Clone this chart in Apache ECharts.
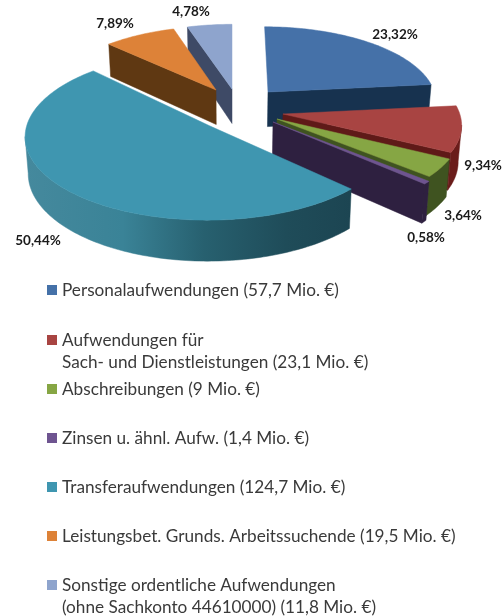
<!DOCTYPE html>
<html>
<head>
<meta charset="utf-8">
<style>html,body{margin:0;padding:0;background:#fff}#c{width:504px;height:616px}</style>
<script src="https://cdn.jsdelivr.net/npm/echarts@6/dist/echarts.min.js"></script>
</head>
<body>
<div id="c"></div>
<script>
// ---- data ----
const categories = [
  'Personalaufwendungen (57,7 Mio. €)',
  'Aufwendungen für\nSach- und Dienstleistungen (23,1 Mio. €)',
  'Abschreibungen (9 Mio. €)',
  'Zinsen u. ähnl. Aufw. (1,4 Mio. €)',
  'Transferaufwendungen (124,7 Mio. €)',
  'Leistungsbet. Grunds. Arbeitssuchende (19,5 Mio. €)',
  'Sonstige ordentliche Aufwendungen\n(ohne Sachkonto 44610000) (11,8 Mio. €)'
];
const amounts = [57.7, 23.1, 9, 1.4, 124.7, 19.5, 11.8];
const percents = [23.32, 9.34, 3.64, 0.58, 50.44, 7.89, 4.78];
const percentLabels = ['23,32%', '9,34%', '3,64%', '0,58%', '50,44%', '7,89%', '4,78%'];

// ---- style / layout ----
const topColors  = ['#4571a8', '#a84442', '#86a644', '#6e5490', '#3f96b0', '#dd8238', '#8ea4cd'];
const wallColors = ['#17324f', '#5f1a18', '#3f5320', '#2e2040', '#1d4753', '#5f3812', '#3e4a66'];
const rimColors  = ['#17324f', '#6a1c1a', '#3f5320', '#2e2040', null, '#6b4015', '#3e4a66'];
const apexX = [268, 283, 277, 273, 210, 216, 232];
const apexY = [92, 114, 119, 122, 126, 90, 89];
const radii = [0.97, 1, 1.02, 1.04, 1.02, 0.95, 0.97];
const angleShiftDeg = [0, 0, 0, 0, 1.3, 0, 0];
const labelX = [395, 483, 463, 426, 38, 115, 191];
const labelY = [35, 166, 216, 238, 241, 24, 12];
const legendCenterY = [290, 340, 389, 438, 487, 536, 585];
const secondLineY = { 1: 362, 6: 607 };
const drawOrder = [6, 5, 0, 1, 2, 3, 4];

// perspective ground-plane projection
const VX = 232, VY = -600, K = 0.2476, B = 0.00138, Q = 0.000155, H = 0.05, TILT = 0.015;
function depthOf(sy) { return (1 / (sy - VY) - B) / Q; }
function project(wx, w) {
  const d = 1 / (B + Q * w);
  return [VX + K * wx * d, VY + d];
}
function drop(p) {
  const h = H * (p[1] - VY);
  return [p[0] + (VX - p[0]) * TILT, p[1] + h];
}
const total = percents.reduce((a, b) => a + b, 0);
const starts = [];
percents.reduce((acc, v, i) => { starts[i] = acc; return acc + v; }, 0);

function renderSlice(i) {
  const shift = angleShiftDeg[i] * Math.PI / 180;
  const t0 = starts[i] / total * 2 * Math.PI + shift;
  const t1 = (starts[i] + percents[i]) / total * 2 * Math.PI + shift;
  const d0 = apexY[i] - VY;
  const ax = (apexX[i] - VX) / (K * d0), aw = depthOf(apexY[i]);
  const n = Math.max(4, Math.round((t1 - t0) * 50));
  const arc = [];
  for (let k = 0; k <= n; k++) {
    const t = t0 + (t1 - t0) * k / n;
    arc.push(project(ax + radii[i] * Math.sin(t), aw + radii[i] * Math.cos(t)));
  }
  const apex = [apexX[i], apexY[i]];
  const children = [];
  const poly = (pts, fill) => children.push({ type: 'polygon', shape: { points: pts }, style: { fill: fill, stroke: fill, lineWidth: 0.5 } });
  // radial walls that face the viewer
  if (Math.sin(t0) < -1e-6) poly([apex, arc[0], drop(arc[0]), drop(apex)], wallColors[i]);
  if (Math.sin(t1) > 1e-6) poly([apex, arc[n], drop(arc[n]), drop(apex)], wallColors[i]);
  // outer rim, near part only
  const rim = arc.filter((p, k) => (k < n && arc[k + 1][0] < p[0]) || (k > 0 && arc[k - 1][0] > p[0]));
  if (rim.length > 1) {
    const fill = rimColors[i] || new echarts.graphic.LinearGradient(0, 0, 1, 0, [
      { offset: 0, color: '#45899d' }, { offset: 0.3, color: '#3a8397' },
      { offset: 0.55, color: '#27606f' }, { offset: 0.8, color: '#1f4c59' }, { offset: 1, color: '#1c4552' }
    ]);
    poly(rim.concat(rim.map(drop).reverse()), fill);
  }
  // top face
  poly([apex].concat(arc), topColors[i]);
  // percent label
  children.push({
    type: 'text',
    style: {
      x: labelX[i], y: labelY[i], text: percentLabels[i], fill: '#1a1a1a',
      font: 'bold 13.5px Lato, Carlito, sans-serif', align: 'center', verticalAlign: 'middle'
    }
  });
  return { type: 'group', children: children };
}

const series = drawOrder.map((i, order) => ({
  type: 'custom',
  name: categories[i],
  coordinateSystem: 'none',
  z: 2 + order,
  silent: true,
  animation: false,
  itemStyle: { color: topColors[i] },
  data: [[amounts[i], percents[i]]],
  renderItem: () => renderSlice(i)
}));

const legendFont = { fontFamily: 'Lato, Carlito, sans-serif', fontSize: 17.2, color: '#3a3a3a' };
const legend = categories.map((c, i) => ({
  data: [c],
  left: 47,
  top: legendCenterY[i] - 11,
  icon: 'rect',
  itemWidth: 10,
  itemHeight: 10,
  itemGap: 0,
  selectedMode: false,
  padding: 0,
  textStyle: Object.assign({ padding: [0, 0, 0, 0], lineHeight: 22, height: 22 }, legendFont),
  formatter: n => n.split('\n')[0]
}));
const secondLines = Object.keys(secondLineY).map(k => ({
  type: 'text',
  left: 62,
  top: secondLineY[k] - 11,
  style: {
    text: categories[k].split('\n')[1],
    fill: legendFont.color,
    font: legendFont.fontSize + 'px ' + legendFont.fontFamily,
    lineHeight: 22
  }
}));

const chart = echarts.init(document.getElementById('c'), null, { renderer: 'canvas' });
chart.setOption({
  backgroundColor: '#fff',
  animation: false,
  legend: legend,
  graphic: secondLines,
  series: series
});
</script>
</body>
</html>
